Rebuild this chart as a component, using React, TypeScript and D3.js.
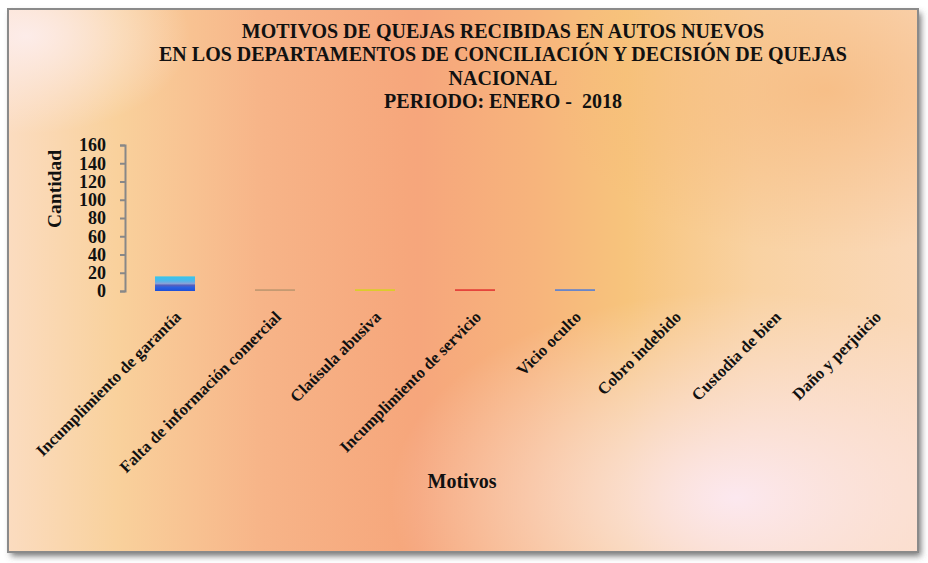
import { useEffect, useRef } from "react";
import * as d3 from "d3";

const motivos = [
  "Incumplimiento de garantía",
  "Falta de información comercial",
  "Claúsula abusiva",
  "Incumplimiento de servicio",
  "Vicio oculto",
  "Cobro indebido",
  "Custodia de bien",
  "Daño y perjuicio",
];
const cantidades = [16, 2, 2, 2, 2, 0, 0, 0];
const barColors = ["url(#barGrad)", "#c59a72", "#dccb2c", "#e5453c", "#6a86c8", "#888", "#888", "#888"];
const yTicks = [0, 20, 40, 60, 80, 100, 120, 140, 160];
const titleLines = [
  "MOTIVOS DE QUEJAS RECIBIDAS EN AUTOS NUEVOS",
  "EN LOS DEPARTAMENTOS DE CONCILIACIÓN Y DECISIÓN DE QUEJAS",
  "NACIONAL",
  "PERIODO: ENERO -  2018",
];

const W = 928;
const H = 563;
const margin = { top: 145, right: 3, bottom: 272, left: 125 };
const font = "'Liberation Serif', 'Times New Roman', serif";

export default function App() {
  const ref = useRef<SVGSVGElement>(null);

  useEffect(() => {
    const svg = d3.select(ref.current);
    svg.selectAll("*").remove();

    const defs = svg.append("defs");
    const bg = defs.append("linearGradient").attr("id", "bg").attr("x1", 0).attr("x2", 1).attr("y1", 0).attr("y2", 0);
    [
      [0, "#fbdcc0"],
      [0.12, "#f9d19c"],
      [0.28, "#f7b488"],
      [0.45, "#f6a67b"],
      [0.58, "#f7b47c"],
      [0.68, "#f7c47c"],
      [0.82, "#f9d2a2"],
      [1, "#fad8b8"],
    ].forEach(([o, c]) => bg.append("stop").attr("offset", o as number).attr("stop-color", c as string));

    const hl1 = defs.append("radialGradient").attr("id", "hl1").attr("cx", 0.02).attr("cy", 0.05).attr("r", 0.18);
    hl1.append("stop").attr("offset", 0).attr("stop-color", "#fdeeee").attr("stop-opacity", 0.9);
    hl1.append("stop").attr("offset", 1).attr("stop-color", "#fdeeee").attr("stop-opacity", 0);
    const hl2 = defs.append("radialGradient").attr("id", "hl2").attr("cx", 0.8).attr("cy", 0.9).attr("r", 0.38);
    hl2.append("stop").attr("offset", 0).attr("stop-color", "#fce8ef").attr("stop-opacity", 1);
    hl2.append("stop").attr("offset", 1).attr("stop-color", "#fce8ef").attr("stop-opacity", 0);
    const hl3 = defs.append("radialGradient").attr("id", "hl3").attr("cx", 0.9).attr("cy", 0.15).attr("r", 0.3);
    hl3.append("stop").attr("offset", 0).attr("stop-color", "#f5b070").attr("stop-opacity", 0.6);
    hl3.append("stop").attr("offset", 1).attr("stop-color", "#f5b070").attr("stop-opacity", 0);

    const barGrad = defs.append("linearGradient").attr("id", "barGrad").attr("x1", 0).attr("x2", 0).attr("y1", 0).attr("y2", 1);
    [
      [0, "#35c6ec"],
      [0.3, "#4fb6ea"],
      [0.5, "#8aa0d8"],
      [0.6, "#5a5fb8"],
      [0.75, "#2a5fe0"],
      [1, "#1e4fd6"],
    ].forEach(([o, c]) => barGrad.append("stop").attr("offset", o as number).attr("stop-color", c as string));

    const shadow = defs.append("filter").attr("id", "shadow").attr("x", -0.05).attr("y", -0.05).attr("width", 1.1).attr("height", 1.1);
    shadow.append("feDropShadow").attr("dx", 3).attr("dy", 4).attr("stdDeviation", 3).attr("flood-color", "#555").attr("flood-opacity", 0.8);

    svg.append("rect").attr("width", W).attr("height", H).attr("fill", "#fff");
    const frame = { x: 8, y: 9, w: 910, h: 543 };
    svg.append("rect").attr("x", frame.x).attr("y", frame.y).attr("width", frame.w).attr("height", frame.h)
      .attr("fill", "url(#bg)").attr("filter", "url(#shadow)");
    ["hl1", "hl2", "hl3"].forEach((id) =>
      svg.append("rect").attr("x", frame.x).attr("y", frame.y).attr("width", frame.w).attr("height", frame.h).attr("fill", `url(#${id})`)
    );
    svg.append("rect").attr("x", frame.x).attr("y", frame.y).attr("width", frame.w).attr("height", frame.h)
      .attr("fill", "none").attr("stroke", "#8a8a8a").attr("stroke-width", 2);

    const title = svg.append("text").attr("text-anchor", "middle").attr("font-family", font)
      .attr("font-weight", "bold").attr("font-size", 20).attr("fill", "#111").style("white-space", "pre");
    titleLines.forEach((t, i) => title.append("tspan").attr("x", 503).attr("y", 38 + i * 23.3).text(t));

    const innerH = H - margin.top - margin.bottom;
    const x = d3.scaleBand().domain(motivos).range([margin.left, margin.left + 800]).paddingInner(0.6).paddingOuter(0.3);
    const y = d3.scaleLinear().domain([0, 160]).range([margin.top + innerH, margin.top]);

    const clip = defs.append("clipPath").attr("id", "clip");
    clip.append("rect").attr("x", frame.x).attr("y", frame.y).attr("width", frame.w - 1).attr("height", frame.h);

    svg.append("g").selectAll("rect").data(motivos).join("rect")
      .attr("x", (d) => x(d)!)
      .attr("width", x.bandwidth())
      .attr("y", (d, i) => y(cantidades[i]))
      .attr("height", (d, i) => y(0) - y(cantidades[i]))
      .attr("fill", (d, i) => barColors[i]);

    const yAxis = svg.append("g").attr("transform", `translate(${margin.left},0)`)
      .call(d3.axisLeft(y).tickValues(yTicks).tickSize(5).tickSizeOuter(5).tickPadding(14));
    yAxis.selectAll("path,line").attr("stroke", "#888").attr("stroke-width", 2);
    yAxis.selectAll("text").attr("font-family", font).attr("font-weight", "bold").attr("font-size", 18).attr("fill", "#111");

    const xAxis = svg.append("g").attr("transform", `translate(0,${y(0)})`).attr("clip-path", "url(#clip)")
      .call(d3.axisBottom(x).tickValues([]).tickSizeOuter(0));
    xAxis.select("path").attr("stroke", "#888").attr("stroke-width", 2);
    const step = x.step();
    xAxis.selectAll("line.tk").data(d3.range(motivos.length + 1)).join("line").attr("class", "tk")
      .attr("x1", (i) => margin.left + i * step).attr("x2", (i) => margin.left + i * step)
      .attr("y1", 0).attr("y2", 5).attr("stroke", "#888").attr("stroke-width", 2);

    svg.append("g").selectAll("text").data(motivos).join("text")
      .attr("transform", (d) => `translate(${x(d)! + x.bandwidth() / 2 + 7},${y(0) + 27}) rotate(-45)`)
      .attr("text-anchor", "end")
      .attr("font-family", font).attr("font-weight", "bold").attr("font-size", 16.5).attr("fill", "#111")
      .text((d) => d);

    svg.append("text").attr("transform", `translate(61,189) rotate(-90)`).attr("text-anchor", "middle")
      .attr("font-family", font).attr("font-weight", "bold").attr("font-size", 19.5).attr("fill", "#111").text("Cantidad");
    svg.append("text").attr("x", 462).attr("y", 488).attr("text-anchor", "middle")
      .attr("font-family", font).attr("font-weight", "bold").attr("font-size", 20).attr("fill", "#111").text("Motivos");
  }, []);

  return (
    <svg ref={ref} width={W} height={H} style={{ position: "absolute", left: 0, top: 0, display: "block" }} />
  );
}
